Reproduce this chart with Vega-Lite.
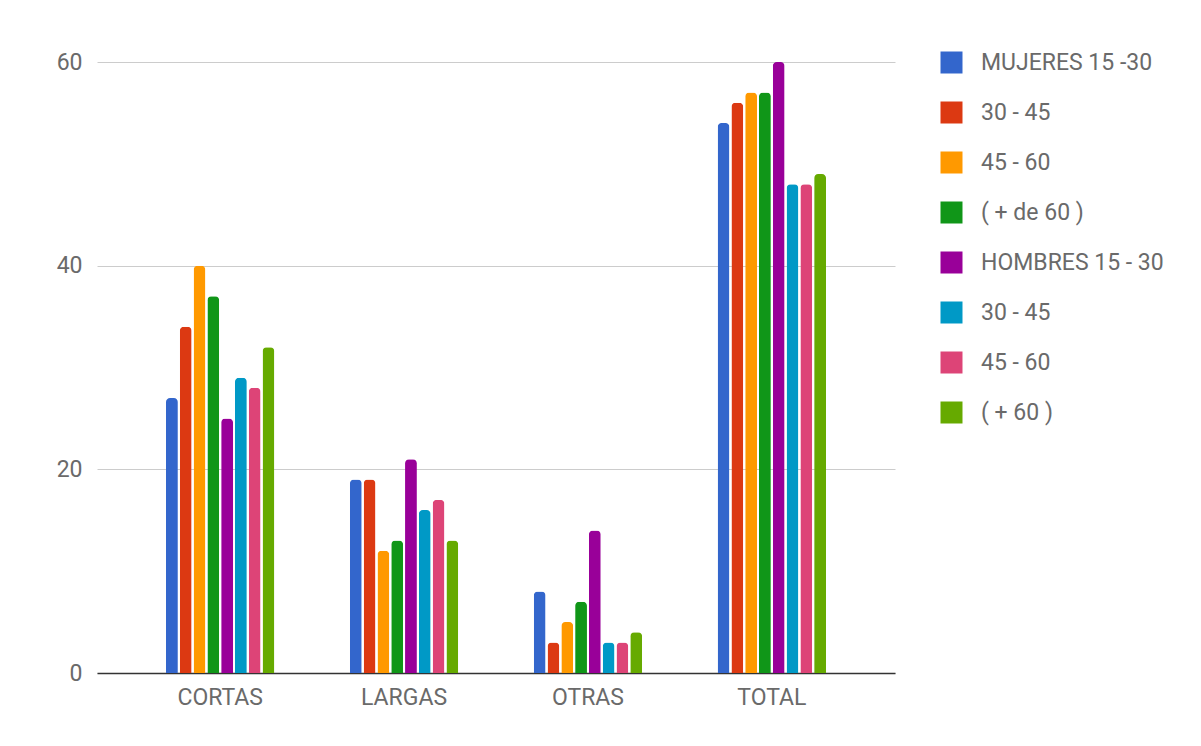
{
  "$schema": "https://vega.github.io/schema/vega-lite/v6.json",
  "width": 798,
  "height": 611,
  "autosize": {"type": "none"},
  "padding": {"left": 97, "top": 62, "right": 306, "bottom": 73},
  "background": "white",
  "config": {
    "view": {"stroke": null},
    "font": "Roboto",
    "axis": {"labelFont": "Roboto", "labelFontSize": 23, "labelColor": "#6a6a6a"},
    "legend": {"labelFont": "Roboto", "labelFontSize": 23, "labelColor": "#6a6a6a"}
  },
  "data": {
    "values": [
      {"tipo": "CORTAS", "serie": "s1| MUJERES 15 -30", "valor": 27},
      {"tipo": "CORTAS", "serie": "s2|30 - 45", "valor": 34},
      {"tipo": "CORTAS", "serie": "s3|45 - 60", "valor": 40},
      {"tipo": "CORTAS", "serie": "s4|( + de 60 )", "valor": 37},
      {"tipo": "CORTAS", "serie": "s5|HOMBRES 15 - 30", "valor": 25},
      {"tipo": "CORTAS", "serie": "s6|30 - 45", "valor": 29},
      {"tipo": "CORTAS", "serie": "s7|45 - 60", "valor": 28},
      {"tipo": "CORTAS", "serie": "s8|( + 60 )", "valor": 32},
      {"tipo": "LARGAS", "serie": "s1| MUJERES 15 -30", "valor": 19},
      {"tipo": "LARGAS", "serie": "s2|30 - 45", "valor": 19},
      {"tipo": "LARGAS", "serie": "s3|45 - 60", "valor": 12},
      {"tipo": "LARGAS", "serie": "s4|( + de 60 )", "valor": 13},
      {"tipo": "LARGAS", "serie": "s5|HOMBRES 15 - 30", "valor": 21},
      {"tipo": "LARGAS", "serie": "s6|30 - 45", "valor": 16},
      {"tipo": "LARGAS", "serie": "s7|45 - 60", "valor": 17},
      {"tipo": "LARGAS", "serie": "s8|( + 60 )", "valor": 13},
      {"tipo": "OTRAS", "serie": "s1| MUJERES 15 -30", "valor": 8},
      {"tipo": "OTRAS", "serie": "s2|30 - 45", "valor": 3},
      {"tipo": "OTRAS", "serie": "s3|45 - 60", "valor": 5},
      {"tipo": "OTRAS", "serie": "s4|( + de 60 )", "valor": 7},
      {"tipo": "OTRAS", "serie": "s5|HOMBRES 15 - 30", "valor": 14},
      {"tipo": "OTRAS", "serie": "s6|30 - 45", "valor": 3},
      {"tipo": "OTRAS", "serie": "s7|45 - 60", "valor": 3},
      {"tipo": "OTRAS", "serie": "s8|( + 60 )", "valor": 4},
      {"tipo": "TOTAL", "serie": "s1| MUJERES 15 -30", "valor": 54},
      {"tipo": "TOTAL", "serie": "s2|30 - 45", "valor": 56},
      {"tipo": "TOTAL", "serie": "s3|45 - 60", "valor": 57},
      {"tipo": "TOTAL", "serie": "s4|( + de 60 )", "valor": 57},
      {"tipo": "TOTAL", "serie": "s5|HOMBRES 15 - 30", "valor": 60},
      {"tipo": "TOTAL", "serie": "s6|30 - 45", "valor": 48},
      {"tipo": "TOTAL", "serie": "s7|45 - 60", "valor": 48},
      {"tipo": "TOTAL", "serie": "s8|( + 60 )", "valor": 49}
    ]
  },
  "mark": {"type": "bar", "cornerRadiusTopLeft": 4, "cornerRadiusTopRight": 4},
  "encoding": {
    "x": {
      "field": "tipo",
      "type": "nominal",
      "sort": ["CORTAS", "LARGAS", "OTRAS", "TOTAL"],
      "scale": {"paddingInner": 0.4, "paddingOuter": 0.37},
      "axis": {
        "title": null,
        "labelAngle": 0,
        "ticks": false,
        "domainColor": "#333333",
        "domainWidth": 1.5,
        "labelPadding": 13,
        "grid": false
      }
    },
    "xOffset": {
      "field": "serie",
      "type": "nominal",
      "scale": {"paddingInner": 0.14, "paddingOuter": 0.07}
    },
    "y": {
      "field": "valor",
      "type": "quantitative",
      "scale": {"domain": [0, 60], "nice": false},
      "axis": {
        "title": null,
        "values": [0, 20, 40, 60],
        "ticks": false,
        "domain": false,
        "gridColor": "#cccccc",
        "gridWidth": 1,
        "labelPadding": 15
      }
    },
    "color": {
      "field": "serie",
      "type": "nominal",
      "scale": {
        "domain": ["s1| MUJERES 15 -30", "s2|30 - 45", "s3|45 - 60", "s4|( + de 60 )", "s5|HOMBRES 15 - 30", "s6|30 - 45", "s7|45 - 60", "s8|( + 60 )"],
        "range": ["#3366cc", "#dc3912", "#ff9900", "#109618", "#990099", "#0099c6", "#dd4477", "#66aa00"]
      },
      "legend": {
        "title": null,
        "orient": "none",
        "legendX": 843,
        "legendY": -11,
        "symbolType": "square",
        "symbolSize": 484,
        "symbolStrokeWidth": 0,
        "symbolOpacity": 1,
        "labelOffset": 18,
        "rowPadding": 26,
        "labelLimit": 300,
        "labelExpr": "split(datum.label, '|')[1]"
      }
    }
  }
}
